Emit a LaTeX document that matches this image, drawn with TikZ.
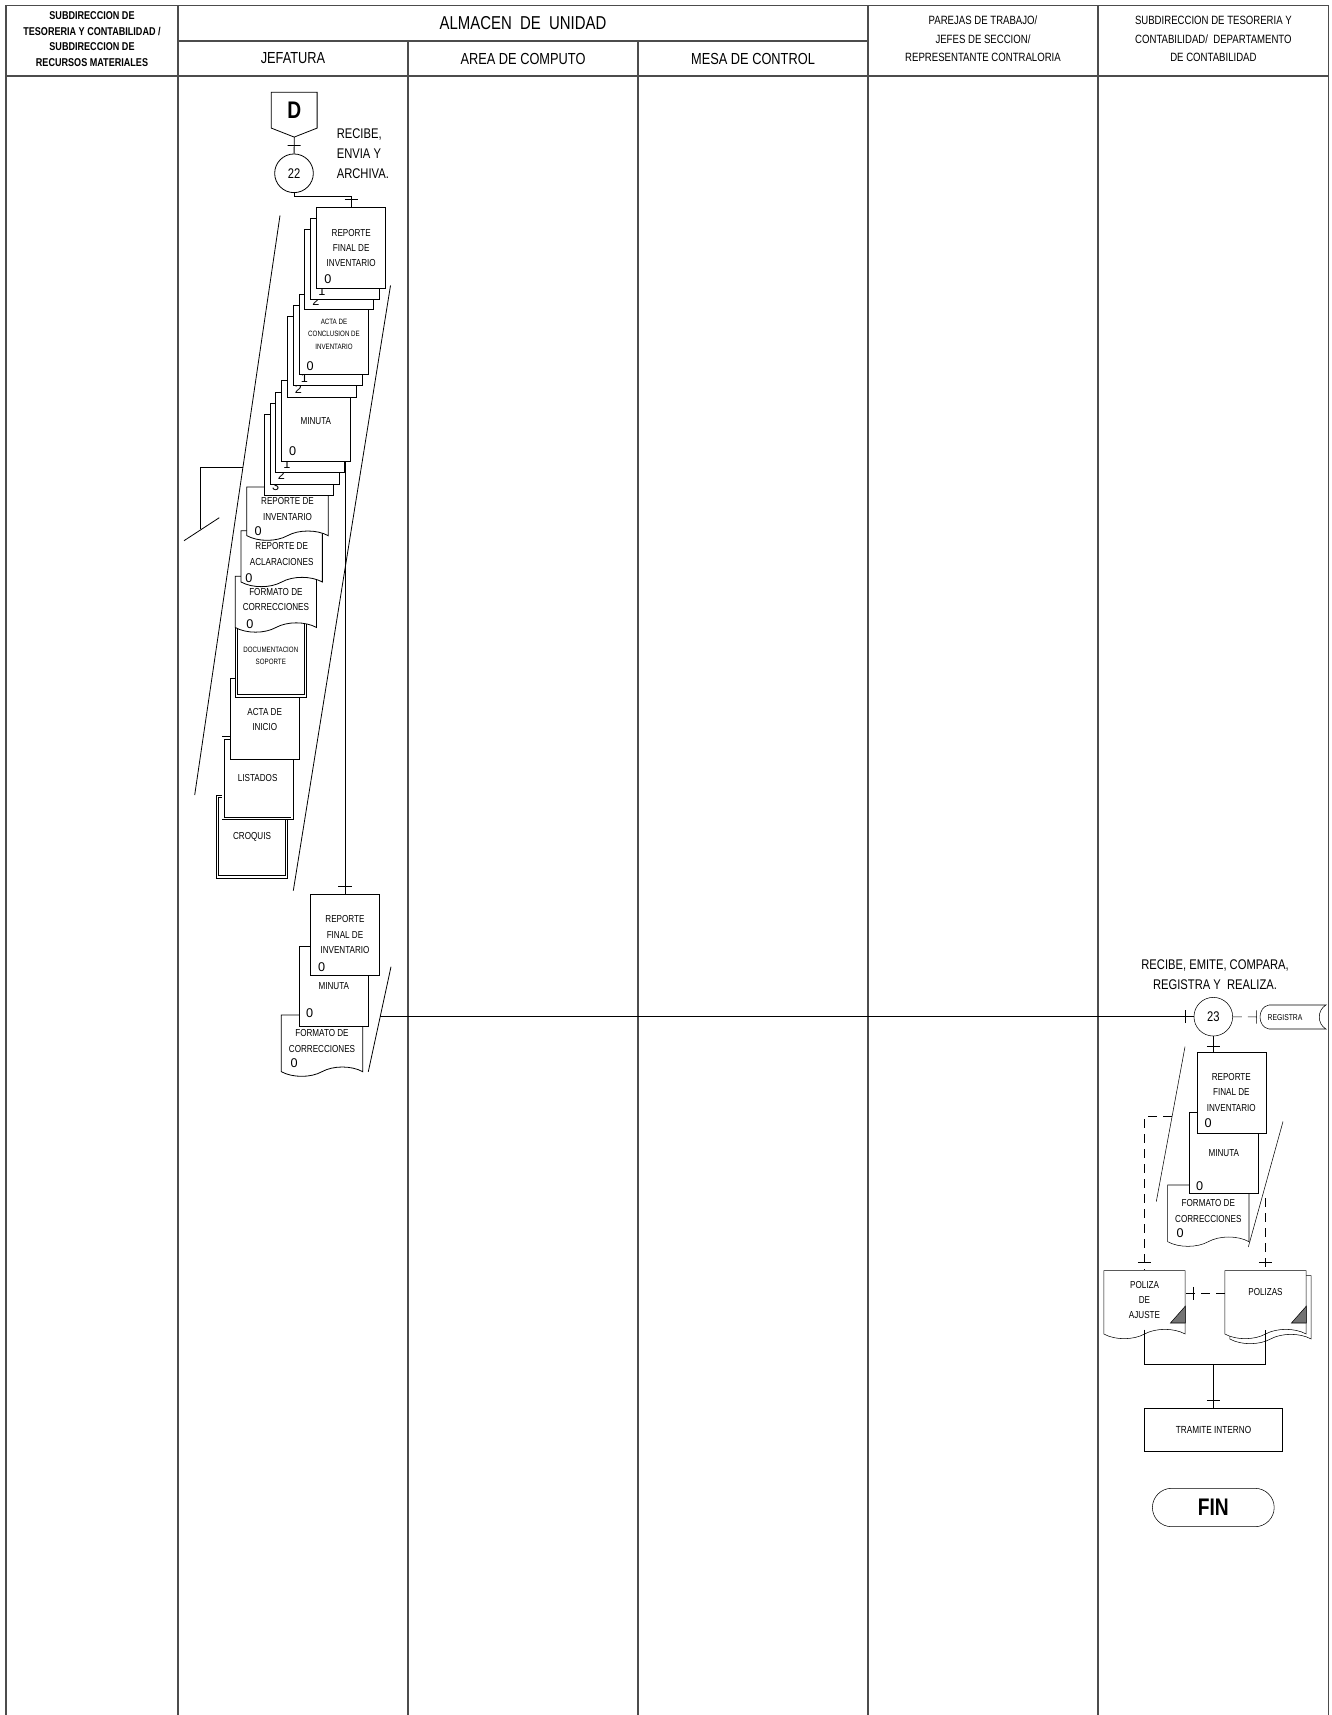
\documentclass[tikz,border=0pt]{standalone}
\usepackage{fontspec}
\setmainfont{Liberation Sans}
\newfontfamily\narrowsf[FakeStretch=0.8]{Liberation Sans}
\usepackage{tikz}
\usetikzlibrary{shapes.symbols, shapes.misc, positioning, calc, decorations.markings}
\pgfdeclarelayer{background}
\pgfsetlayers{background,main}

\begin{document}
\begin{tikzpicture}[
  x=0.75pt, y=-0.75pt,
  line width=0.6pt,
  lane/.style={draw=black!70, line width=0.9pt},
  sheet/.style={rectangle, draw, fill=white, minimum width=51.75pt, minimum height=60.5pt, inner sep=0pt, align=center, font={\narrowsf\fontsize{7.6}{11.5}\selectfont}},
  tinysheet/.style={sheet, font={\narrowsf\fontsize{5.8}{9.2}\selectfont}},
  dsheet/.style={sheet, double, double distance=1.2pt},
  wavedoc/.style={tape, tape bend top=none, tape bend bottom=in and out, tape bend height=7pt, draw, fill=white, minimum width=61pt, minimum height=46pt, inner sep=0pt, align=center, font={\narrowsf\fontsize{7.6}{11.6}\selectfont}},
  stackdoc/.style={wavedoc, minimum height=42pt},
  copyno/.style={inner sep=0pt, font={\fontsize{9.5}{10}\selectfont}},
  opcircle/.style={circle, draw, fill=white, minimum size=29pt, inner sep=0pt, font={\narrowsf\fontsize{10.5}{12}\selectfont}},
  box/.style={rectangle, draw, minimum width=103.8pt, minimum height=32.5pt, font={\narrowsf\fontsize{7.7}{9}\selectfont}},
  corner/.style={draw, fill=black!55},
  flow/.style={postaction={decorate}, decoration={markings, mark=at position -#1 with {\draw[solid] (0pt,-4.9pt) -- (0pt,4.9pt);}}},
  flow/.default=6pt,
  dflow/.style={flow=#1, dash pattern=on 6.75pt off 4.5pt},
  dflow/.default=6pt
]
  \useasboundingbox (0,0) rectangle (1331,1715);

  % frame and lanes
  \draw[lane] (6,1715) -- (6,5.7) -- (1328.7,5.7) -- (1328.7,1715);
  \draw[lane] (6,76) -- (1328.7,76);
  \draw[lane] (178,41) -- (868,41);
  \foreach \x in {178,868,1098} \draw[lane] (\x,5.7) -- (\x,1715);
  \foreach \x in {408,638} \draw[lane] (\x,41) -- (\x,1715);

  % headers
  \node[align=center, font={\narrowsf\bfseries\fontsize{8.5}{11.8}\selectfont}] (hsub) at (92,39) {SUBDIRECCION DE\\TESORERIA Y CONTABILIDAD /\\SUBDIRECCION DE\\RECURSOS MATERIALES};
  \node[font={\narrowsf\fontsize{14}{16}\selectfont}] (halm) at (523,23.5) {ALMACEN\ \ DE\ \ UNIDAD};
  \node[font={\narrowsf\fontsize{12}{14}\selectfont}] (hjef) at (293,58.5) {JEFATURA};
  \node[font={\narrowsf\fontsize{12}{14}\selectfont}] (hcom) at (523,58.5) {AREA DE COMPUTO};
  \node[font={\narrowsf\fontsize{12}{14}\selectfont}] (hmes) at (753,58.5) {MESA DE CONTROL};
  \node[align=center, font={\narrowsf\fontsize{9}{14}\selectfont}] (hpar) at (983,39) {PAREJAS DE TRABAJO/\\JEFES DE SECCION/\\REPRESENTANTE CONTRALORIA};
  \node[align=center, font={\narrowsf\fontsize{9}{14}\selectfont}] (htes) at (1213.4,39) {SUBDIRECCION DE TESORERIA Y\\CONTABILIDAD/\ \ DEPARTAMENTO\\DE CONTABILIDAD};

  % step 22
  \node[minimum width=33.75pt, minimum height=26.25pt, inner sep=0pt, font={\narrowsf\bfseries\fontsize{18}{20}\selectfont}] (Dcon) at (294.2,110.2) {D};
  \coordinate (Dtip) at ($(Dcon.south)+(0,9)$);
  \draw (Dcon.north west) -- (Dcon.north east) -- (Dcon.south east) -- (Dtip) -- (Dcon.south west) -- cycle;
  \node[opcircle] (c22) at (294,173.3) {22};
  \node[anchor=west, align=left, font={\narrowsf\fontsize{10.5}{15}\selectfont}] (t22) at (332,154) {RECIBE,\\ENVIA Y\\ARCHIVA.};
  \draw[flow] (Dtip) -- (c22);

  % documents filed by jefatura (lowest first)
  \node[dsheet] (croq) at (252,836.7) {CROQUIS};
  \node[dsheet] (list) at (257.7,778.3) {LISTADOS};
  \node[sheet] (actini) at (264.7,719.2) {ACTA DE\\INICIO};
  \node[tinysheet, double, double distance=1.2pt] (docsop) at (270.8,655.7) {DOCUMENTACION\\SOPORTE};
  \node[stackdoc] (fcorA) at (275.9,599.5) {FORMATO DE\\CORRECCIONES};
  \node[copyno] (nfcorA) at ($(fcorA.west)+(15,25)$) {0};
  \node[stackdoc] (aclA) at (281.7,554) {REPORTE DE\\ACLARACIONES};
  \node[copyno] (naclA) at ($(aclA.west)+(8.3,24)$) {0};
  \node[stackdoc, minimum height=40pt] (rinvA) at (287.5,509) {REPORTE DE\\INVENTARIO};
  \node[copyno] (nrinvA) at ($(rinvA.west)+(11.6,22)$) {0};

  \foreach \k in {3,2,1} {
    \node[sheet] (minA\k) at ($(315.8,421)+(-5.7*\k,11.3*\k)$) {};
    \node[copyno] (nminA\k) at ($(minA\k.south west)+(11.8,-9)$) {\k};
  }
  \node[sheet] (minA0) at (315.8,421) {MINUTA};
  \node[copyno] (nminA0) at ($(minA0.south west)+(11.7,-10.3)$) {0};

  \foreach \k in {2,1} {
    \node[sheet] (actcA\k) at ($(334,334.3)+(-6.1*\k,11.2*\k)$) {};
    \node[copyno] (nactcA\k) at ($(actcA\k.south west)+(11.5,-8.4)$) {\k};
  }
  \node[tinysheet] (actcA0) at (334,334.3) {ACTA DE\\CONCLUSION DE\\INVENTARIO};
  \node[copyno] (nactcA0) at ($(actcA0.south west)+(11,-9.3)$) {0};

  \foreach \k in {2,1} {
    \node[sheet] (rfiA\k) at ($(351.2,248)+(-6*\k,10.7*\k)$) {};
    \node[copyno] (nrfiA\k) at ($(rfiA\k.south west)+(11.6,-8.6)$) {\k};
  }
  \node[sheet] (rfiA0) at (351.2,248) {REPORTE\\FINAL DE\\INVENTARIO};
  \node[copyno] (nrfiA0) at ($(rfiA0.south west)+(11.6,-9.3)$) {0};

  \draw[flow] (c22.south) -- ++(0,3) -| (rfiA0.north);

  \draw (280,215.5) -- (194.7,795);
  \draw (390.5,285.5) -- (293.3,890.7);
  \draw (243,467.7) -- (200,467.7) -- (200,529);
  \draw (184,540.7) -- (219.3,517.7);

  % documents sent on
  \node[wavedoc] (fcorB) at (322,1041) {FORMATO DE\\CORRECCIONES};
  \node[copyno] (nfcorB) at ($(fcorB.west)+(13.3,22.3)$) {0};
  \node[sheet] (minB) at (333.8,986.3) {MINUTA};
  \node[copyno] (nminB) at ($(minB.south west)+(10.7,-14)$) {0};
  \node[sheet] (rfiB) at (345,934.8) {REPORTE\\FINAL DE\\INVENTARIO};
  \node[copyno] (nrfiB) at ($(rfiB.south west)+(11.6,-8.6)$) {0};
  \draw (391,966.7) -- (368.3,1071.7);
  \coordinate (hstart) at (380,1016.7);

  \begin{pgfonlayer}{background}
    \draw[flow] (rfiA0.south -| rfiB.north) -- (rfiB.north);
  \end{pgfonlayer}

  % step 23
  \node[align=center, font={\narrowsf\fontsize{10.5}{15}\selectfont}] (t23) at (1215,975) {RECIBE, EMITE, COMPARA,\\REGISTRA Y\ \ REALIZA.};
  \node[opcircle] (c23) at (1213.3,1016.7) {23};
  \draw[flow] (hstart) -- (c23);
  \node[inner sep=0pt, font={\narrowsf\fontsize{6.4}{7}\selectfont}] (reg) at (1285,1017.5) {REGISTRA};
  \draw (1269,1005) -- (1326,1005) .. controls (1317,1010) and (1317,1024) .. (1326,1029) -- (1269,1029) .. controls (1257,1027) and (1257,1007) .. (1269,1005);
  \coordinate (regW) at (1260,1017);
  \draw[dflow=2.5pt] (c23) -- (regW);

  \node[wavedoc] (fcorC) at (1208.3,1211) {FORMATO DE\\CORRECCIONES};
  \node[copyno] (nfcorC) at ($(fcorC.west)+(12.7,21.7)$) {0};
  \node[sheet] (minC) at (1223.8,1153) {MINUTA};
  \node[copyno] (nminC) at ($(minC.south west)+(10.7,-7.6)$) {0};
  \node[sheet] (rfiC) at (1231.3,1092.5) {REPORTE\\FINAL DE\\INVENTARIO};
  \node[copyno] (nrfiC) at ($(rfiC.south west)+(11.6,-10)$) {0};
  \draw[flow=4.2pt] (c23) -- (c23 |- rfiC.north);
  \draw (1185,1046.7) -- (1156.3,1201.5);
  \draw (1283,1121.5) -- (1248.3,1247);
  \coordinate (lstart) at (1172,1116.7);
  \coordinate (rstart) at (1265.5,1198);

  % polizas
  \node[wavedoc, minimum height=51pt] (pola) at (1144.5,1300) {POLIZA\\DE\\AJUSTE};
  \node[wavedoc, minimum height=51pt] (polzb) at (1270.5,1305) {};
  \node[wavedoc, minimum height=51pt] (polz) at (1265.5,1300) {POLIZAS\\\phantom{0}};
  \path[corner] ($(pola.east)+(0,6)$) -- ($(pola.east)+(0,23)$) -- ($(pola.east)+(-15,23)$) -- cycle;
  \path[corner] ($(polz.east)+(0,6)$) -- ($(polz.east)+(0,23)$) -- ($(polz.east)+(-15,23)$) -- cycle;
  \draw[dflow] (lstart) -| (pola.north);
  \draw[dflow] (rstart) -- (polz.north);
  \draw[dflow] ($(polz.west)+(0,-6.7)$) -- ($(pola.east)+(0,-6.7)$);

  \node[box] (tram) at (1213.5,1430) {TRAMITE INTERNO};
  \coordinate (jn) at (1213.5,1364);
  \draw (pola.south) |- (jn) -| (polz.south);
  \draw[flow] (jn) -- (tram);

  \node[rounded rectangle, draw, minimum width=98pt, minimum height=28.8pt, font={\narrowsf\bfseries\fontsize{18}{20}\selectfont}] (fin) at (1213.3,1507.5) {FIN};
\end{tikzpicture}
\end{document}
